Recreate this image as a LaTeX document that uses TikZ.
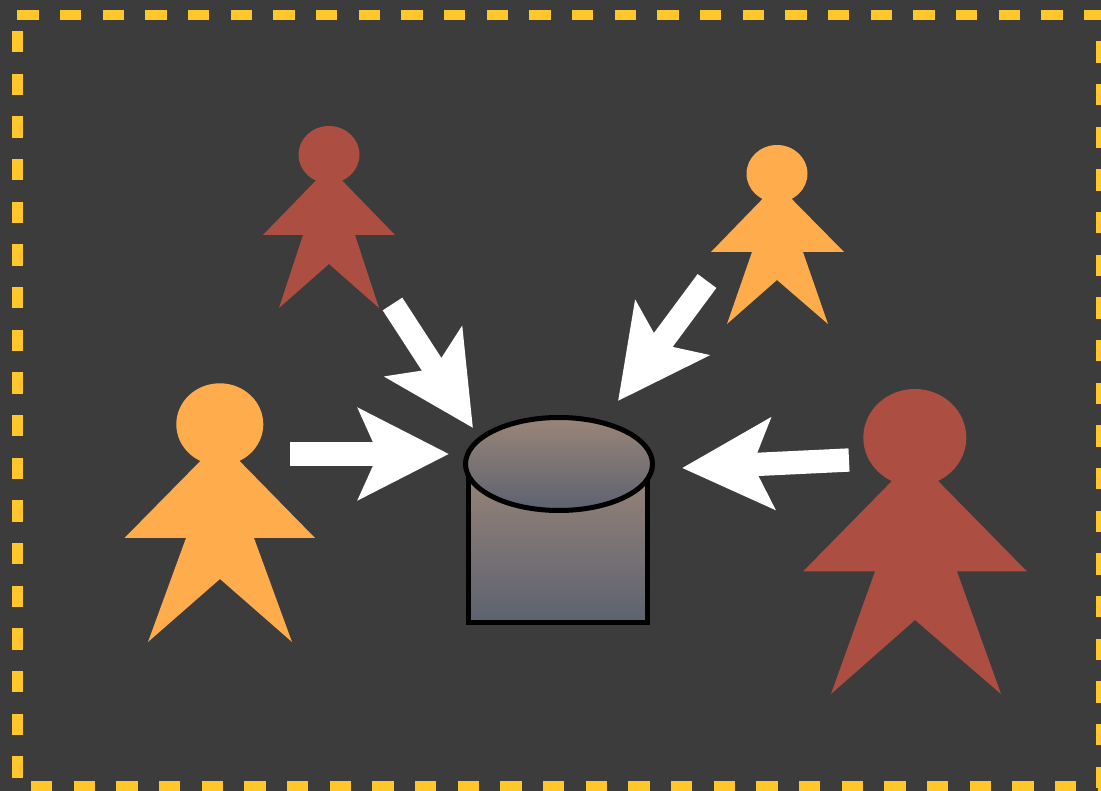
\documentclass[tikz,border=0pt]{standalone}
\definecolor{bgdark}{HTML}{3C3C3C}
\definecolor{frameyellow}{HTML}{FFC72A}
\definecolor{orange1}{HTML}{FFAC4D}
\definecolor{red1}{HTML}{AD4E43}
\definecolor{dbtop}{HTML}{9A8578}
\definecolor{dbbottom}{HTML}{5C6270}
\usetikzlibrary{arrows.meta}
\tikzset{
  frameline/.style={draw=frameyellow, line width=8pt, dash pattern=on 16pt off 16pt},
  person/.style={fill=#1, draw=none},
  bigarrow/.style={draw=white, line width=17.5pt, -{Stealth[length=67.5pt, width=67.5pt, inset=14.5pt]}},
  dbshape/.style={draw=black, line width=3.75pt, top color=dbtop, bottom color=dbbottom}
}

\begin{document}
\begin{tikzpicture}[x=0.75pt, y=-0.75pt]
  \useasboundingbox (0,0) rectangle (1101,791);
  \fill[bgdark] (0,0) rectangle (1101,791);

  % frame
  \draw[frameline] (17.3,15) -- (1101,15);
  \draw[frameline] (1101,41.5) -- (1101,788);
  \draw[frameline] (17.5,31) -- (17.5,780);
  \draw[frameline] (31,786) -- (1101,786);

  % people
  \fill[person=red1] (329,167) -- (395,235) -- (355,235) -- (379,308) -- (329,264) -- (279,308) -- (303,235) -- (263,235) -- cycle;
  \fill[person=red1] (329,154.7) ellipse (30.5 and 28.7);
  \fill[person=orange1] (777,184) -- (844,252) -- (803,252) -- (828,324) -- (777,280) -- (727,324) -- (752,252) -- (711,252) -- cycle;
  \fill[person=orange1] (777,173.7) ellipse (30.5 and 28.7);
  \fill[person=orange1] (220,441) -- (315,538) -- (254,538) -- (292,642) -- (220,579) -- (148,642) -- (186,538) -- (124.5,538) -- cycle;
  \fill[person=orange1] (219.8,424.3) ellipse (43.5 and 41);
  \fill[person=red1] (915,457.5) -- (1027,571.5) -- (957,571.5) -- (1001,694) -- (915,620) -- (831,694) -- (875,571.5) -- (803,571.5) -- cycle;
  \fill[person=red1] (914.8,437.6) ellipse (51.5 and 48.6);

  % database
  \path[dbshape] (468,464) rectangle (647,622.5);
  \path[dbshape] (559,464) ellipse (93.5 and 46.5);

  % arrows
  \coordinate (leftstart) at (290,454);
  \coordinate (lefttip) at (449,454);
  \coordinate (redstart) at (392.5,304);
  \coordinate (redtip) at (473,428);
  \coordinate (orangestart) at (707,281);
  \coordinate (orangetip) at (618,401);
  \coordinate (rightstart) at (849,460);
  \coordinate (righttip) at (682,468);
  \draw[bigarrow] (leftstart) -- (lefttip);
  \draw[bigarrow] (redstart) -- (redtip);
  \draw[bigarrow] (orangestart) -- (orangetip);
  \draw[bigarrow] (rightstart) -- (righttip);
\end{tikzpicture}
\end{document}
